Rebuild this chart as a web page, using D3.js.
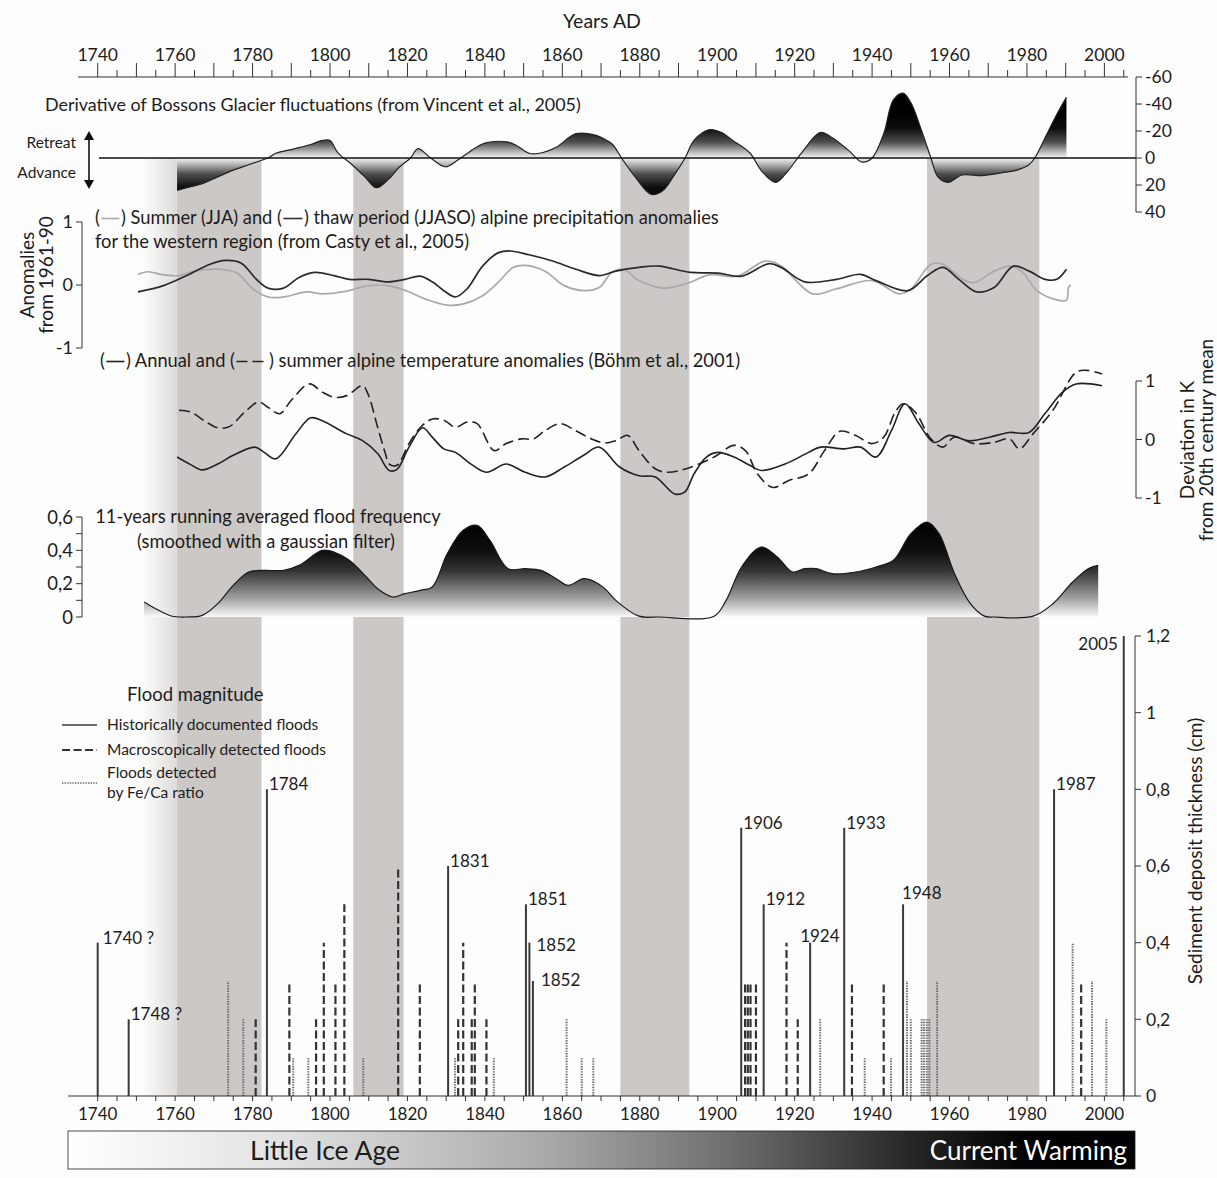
<!DOCTYPE html>
<html>
<head>
<meta charset="utf-8">
<script src="https://cdn.jsdelivr.net/npm/d3@7"></script>
<style>
  body { margin: 0; background: #fdfdfd; }
  svg text { font-family: Lato, "Open Sans", "Noto Sans", sans-serif; fill: #1c1c1c; }
</style>
</head>
<body>
<svg id="chart" width="1217" height="1178"></svg>
<script>
// ---------------- data ----------------
const yearTicks = d3.range(1740, 2001, 20);
const fadeStartYear = 1751.5;
const coldPhases = [[1760.5, 1782.3], [1806, 1819], [1875, 1892.8], [1954.2, 1983.2]];

// Derivative of Bossons Glacier fluctuations (negative = retreat)
const glacierYears = [1760.5, 1763, 1767, 1771, 1775, 1779, 1782, 1784, 1786, 1791, 1795, 1798, 1800, 1802, 1805.7, 1809, 1812, 1815, 1818, 1820.8, 1822.7, 1826, 1829.8, 1833, 1836, 1840, 1845.5, 1848, 1851.4, 1854, 1858.4, 1863.5, 1868.5, 1871.5, 1873, 1875.3, 1878.8, 1883, 1886, 1888.6, 1891.7, 1894, 1898, 1901, 1904, 1908.5, 1911.3, 1915, 1917.6, 1921.7, 1926.7, 1929.7, 1933.8, 1937.4, 1940, 1943, 1945.5, 1948, 1950, 1952.7, 1955.2, 1957, 1959.6, 1963.2, 1968.4, 1973.4, 1977.4, 1980.5, 1982, 1985.7, 1988.2, 1990.2];
const glacierValues = [24, 22, 19, 14, 9, 5, 2, 0, -3.5, -7, -10, -13, -13, -4, 5, 14, 22, 16, 6.5, 0, -7, 0, 6.5, 1.5, -4.5, -11, -12, -9.5, -3.5, -3.5, -8, -18, -17, -13, -10, 0, 14, 27, 24, 14, 0, -13, -21, -19, -13, -3.5, 9, 18, 12, -3.5, -19, -15, -6, 3, 0, -18, -43, -48, -41, -21, 0, 14, 18, 12.6, 13, 11, 9, 5, 0, -21, -35, -45];

// Alpine precipitation anomalies, western region
const precipThawYears = [1750.4, 1757, 1763, 1769, 1773, 1777, 1781, 1784, 1788, 1792, 1796, 1801, 1805, 1810, 1815, 1819.4, 1823.3, 1826.4, 1829.4, 1832.4, 1835.4, 1839.4, 1843.4, 1846.5, 1851.4, 1857.5, 1863.5, 1869.5, 1873.8, 1879.8, 1885, 1893.1, 1900.2, 1906.3, 1913.4, 1916.5, 1922.6, 1930.8, 1937, 1941, 1949.2, 1954.3, 1958.3, 1962.4, 1967, 1971.5, 1976.5, 1980.6, 1984.7, 1987.7, 1990.2];
const precipThawValues = [-0.11, -0.01, 0.15, 0.33, 0.39, 0.35, 0.09, -0.05, -0.05, 0.12, 0.2, 0.15, 0.09, 0.09, 0.05, 0.09, 0.14, 0.05, -0.09, -0.19, -0.06, 0.3, 0.51, 0.54, 0.48, 0.38, 0.25, 0.15, 0.22, 0.28, 0.3, 0.2, 0.19, 0.14, 0.34, 0.28, 0.05, 0.09, 0.17, 0.07, -0.09, 0.15, 0.28, 0.09, -0.11, -0.04, 0.3, 0.22, 0.09, 0.09, 0.25];
const precipSummerYears = [1750.4, 1753, 1757, 1761, 1765, 1771, 1776, 1780, 1784, 1788, 1794, 1798, 1804, 1810, 1815, 1820, 1824.5, 1830.3, 1834.5, 1839.4, 1843.4, 1847.4, 1850.4, 1855.5, 1860.5, 1865.6, 1869.5, 1872.8, 1875.8, 1879.8, 1886, 1892, 1898, 1905.2, 1912.4, 1916.5, 1924.6, 1930.8, 1940, 1947, 1950, 1955.2, 1958.3, 1963.4, 1966.4, 1971.5, 1975.6, 1978.6, 1982.6, 1986.7, 1990.2, 1990.7, 1991.3];
const precipSummerValues = [0.17, 0.21, 0.16, 0.15, 0.22, 0.25, 0.19, -0.06, -0.19, -0.19, -0.11, -0.14, -0.1, -0.01, -0.01, -0.1, -0.22, -0.32, -0.3, -0.17, 0.04, 0.28, 0.31, 0.22, -0.01, -0.09, -0.04, 0.2, 0.25, 0.07, -0.05, 0.02, 0.16, 0.14, 0.38, 0.3, -0.14, -0.06, 0.07, -0.14, -0.07, 0.33, 0.33, 0.09, 0.04, 0.22, 0.3, 0.22, -0.09, -0.22, -0.24, -0.04, 0.0];

// Alpine temperature anomalies (K)
const tempSummerYears = [1761, 1764, 1768, 1771, 1774, 1778, 1781.6, 1784, 1787, 1790, 1794.7, 1798, 1801.3, 1804.3, 1808.4, 1809.8, 1812.3, 1814.3, 1815.3, 1817.3, 1820.4, 1823.4, 1826.4, 1829.4, 1832.4, 1835.4, 1838, 1842.4, 1845.5, 1849.4, 1852.5, 1855.5, 1859.5, 1863.5, 1867.5, 1871, 1873.8, 1876.9, 1879.8, 1884, 1887, 1892, 1899.2, 1904.3, 1907.3, 1910.4, 1914.4, 1918.5, 1923.6, 1927.7, 1931.7, 1935.8, 1939.9, 1943, 1946, 1948, 1951.1, 1955.2, 1958.3, 1961.2, 1966.4, 1971.4, 1975.5, 1978, 1981.6, 1986.7, 1992.7, 1995.8, 1999.4];
const tempSummerValues = [0.5, 0.47, 0.3, 0.2, 0.22, 0.47, 0.64, 0.55, 0.44, 0.67, 0.95, 0.81, 0.72, 0.75, 0.92, 0.78, 0.21, -0.24, -0.42, -0.44, -0.07, 0.21, 0.35, 0.33, 0.21, 0.3, 0.27, -0.19, -0.07, 0.01, 0.01, 0.15, 0.27, 0.15, 0.01, -0.06, -0.02, 0.07, -0.19, -0.5, -0.56, -0.5, -0.3, -0.1, -0.19, -0.59, -0.82, -0.7, -0.59, -0.19, 0.14, 0.07, -0.07, 0.04, 0.47, 0.61, 0.47, 0.01, -0.13, 0.04, -0.07, -0.05, 0.01, -0.16, 0.1, 0.5, 1.15, 1.18, 1.12];
const tempAnnualYears = [1760.5, 1764, 1767, 1771, 1775, 1780.6, 1783, 1786, 1791.2, 1795, 1798, 1804.2, 1808.4, 1812.3, 1815.3, 1817.3, 1820.4, 1823.9, 1826.4, 1829.4, 1832.4, 1836.4, 1840.4, 1845.5, 1850.4, 1855.5, 1860.5, 1865.5, 1869.5, 1874.8, 1879.8, 1884, 1889, 1891.6, 1894, 1897.2, 1900.2, 1904.3, 1908.4, 1911.4, 1917.5, 1923.6, 1926.7, 1932.8, 1937, 1941, 1945, 1948.5, 1952.1, 1956, 1960, 1965, 1970.3, 1975.4, 1980.5, 1984.6, 1989.2, 1992.7, 1999.4];
const tempAnnualValues = [-0.3, -0.43, -0.52, -0.42, -0.27, -0.13, -0.22, -0.33, 0.1, 0.37, 0.32, 0.1, -0.02, -0.24, -0.53, -0.51, -0.13, 0.2, 0.04, -0.16, -0.22, -0.42, -0.56, -0.42, -0.56, -0.64, -0.47, -0.27, -0.13, -0.47, -0.62, -0.64, -0.93, -0.9, -0.59, -0.3, -0.22, -0.3, -0.44, -0.53, -0.42, -0.22, -0.13, -0.16, -0.13, -0.3, 0.15, 0.61, 0.27, -0.05, 0.07, -0.02, 0.04, 0.12, 0.12, 0.44, 0.81, 0.95, 0.92];

// 11-year running flood frequency (gaussian smoothed)
const freqYears = [1752, 1755, 1759, 1763, 1767, 1771, 1775, 1779, 1783, 1788, 1792, 1798, 1801, 1805, 1809.4, 1812.3, 1816.3, 1819.3, 1823.3, 1826.4, 1830.3, 1834.4, 1838, 1841.3, 1846, 1850.4, 1854.5, 1858.4, 1861.5, 1865.5, 1868.5, 1871, 1873.8, 1879.8, 1885, 1899.2, 1902.3, 1906.3, 1911.4, 1915.5, 1919.5, 1922.6, 1925.6, 1929.7, 1935.8, 1941, 1945.5, 1950, 1954.2, 1957.3, 1961.3, 1965.4, 1969, 1971.5, 1981.6, 1986.7, 1991.8, 1995.8, 1998.4];
const freqValues = [0.09, 0.05, 0.006, 0, 0.01, 0.08, 0.19, 0.27, 0.28, 0.28, 0.31, 0.4, 0.39, 0.34, 0.24, 0.17, 0.12, 0.14, 0.16, 0.18, 0.38, 0.52, 0.55, 0.46, 0.29, 0.29, 0.28, 0.23, 0.19, 0.23, 0.21, 0.17, 0.1, 0.005, 0, 0.005, 0.1, 0.3, 0.42, 0.36, 0.27, 0.29, 0.29, 0.26, 0.27, 0.3, 0.34, 0.5, 0.57, 0.5, 0.26, 0.08, 0.005, 0, 0.005, 0.08, 0.21, 0.29, 0.31];

// Flood events: sediment deposit thickness (cm)
const histYears = [1740, 1748, 1783.7, 1830.5, 1850.6, 1851.5, 1852.4, 1906.2, 1912, 1924, 1932.8, 1948, 1987, 2005];
const histValues = [0.4, 0.2, 0.8, 0.6, 0.5, 0.4, 0.3, 0.7, 0.5, 0.4, 0.7, 0.5, 0.8, 1.2];
const histLabels = ["1740 ?", "1748 ?", "1784", "1831", "1851", "1852", "1852", "1906", "1912", "1924", "1933", "1948", "1987", "2005"];
const macroYears = [1780.8, 1789.5, 1796.4, 1798.4, 1801.4, 1803.7, 1817.6, 1823.2, 1833.1, 1834.4, 1836.6, 1837.4, 1840.4, 1907.2, 1907.9, 1908.6, 1910, 1917.9, 1920.8, 1934.8, 1943, 1994];
const macroValues = [0.2, 0.3, 0.2, 0.4, 0.3, 0.5, 0.6, 0.3, 0.2, 0.4, 0.2, 0.3, 0.2, 0.3, 0.3, 0.3, 0.3, 0.4, 0.2, 0.3, 0.3, 0.3];
const feCaYears = [1773.7, 1777.6, 1790.5, 1794.4, 1808.6, 1832.3, 1842.3, 1861.1, 1865, 1868, 1926.6, 1938.1, 1944.9, 1949, 1950, 1952.8, 1953.4, 1954.1, 1954.8, 1956.8, 1991.8, 1996.8, 2000.5];
const feCaValues = [0.3, 0.2, 0.1, 0.1, 0.1, 0.1, 0.1, 0.2, 0.1, 0.1, 0.2, 0.1, 0.1, 0.3, 0.2, 0.2, 0.2, 0.2, 0.2, 0.3, 0.4, 0.3, 0.2];

const glacierTicks = [-60, -40, -20, 0, 20, 40];
const precipTicks = [1, 0, -1];
const tempTicks = [1, 0, -1];
const freqTicks = [0, 0.2, 0.4, 0.6];
const sedimentTicks = [0, 0.2, 0.4, 0.6, 0.8, 1, 1.2];

// ---------------- drawing ----------------
const svg = d3.select("#chart");
const defs = svg.append("defs");
const zip = (a, b) => a.map((v, i) => [v, b[i]]);
const comma = v => String(v).replace(".", ",");
const titleSize = 18.3, rotSize = 19, axisSize = 17.5;

const x = d3.scaleLinear().domain([1740, 2000]).range([97.7, 1104.4]);
const gy = d3.scaleLinear().domain([-60, 40]).range([77, 212]);
const py = d3.scaleLinear().domain([-1, 1]).range([348, 222]);
const ty = d3.scaleLinear().domain([-1, 1]).range([498, 381]);
const fy = d3.scaleLinear().domain([0, 0.6]).range([617, 517]);
const sy = d3.scaleLinear().domain([0, 1.2]).range([1096, 636]);
const smooth = d3.curveCatmullRom.alpha(0.5);

function grad(id, attrs, stops) {
  const g = defs.append("linearGradient").attr("id", id);
  Object.entries(attrs).forEach(([k, v]) => g.attr(k, v));
  stops.forEach(([o, c]) => g.append("stop").attr("offset", o).attr("stop-color", c));
}

// cold-phase shading
const bandTop = gy(0), bandBottom = sy(0);
grad("fade", { x1: 0, x2: 1, y1: 0, y2: 0 }, [[0, "#fdfdfd"], [1, "#dedcda"]]);
svg.append("rect")
  .attr("x", x(fadeStartYear)).attr("y", bandTop)
  .attr("width", x(coldPhases[0][0]) - x(fadeStartYear)).attr("height", bandBottom - bandTop)
  .attr("fill", "url(#fade)");
svg.selectAll("rect.band").data(coldPhases).join("rect").attr("class", "band")
  .attr("x", d => x(d[0])).attr("y", bandTop)
  .attr("width", d => x(d[1]) - x(d[0])).attr("height", bandBottom - bandTop)
  .attr("fill", "#ccc8c5");

// ---- top year axis ----
svg.append("text").attr("x", 602).attr("y", 28).attr("text-anchor", "middle")
  .attr("font-size", 19.5).text("Years AD");
const topAxis = svg.append("g").attr("transform", "translate(0,77)");
topAxis.append("line").attr("x1", 78).attr("x2", 1128).attr("stroke", "#333").attr("stroke-width", 1.2);
topAxis.selectAll("line.t").data(d3.range(1740, 2006, 5)).join("line").attr("class", "t")
  .attr("x1", d => x(d)).attr("x2", d => x(d))
  .attr("y1", 0).attr("y2", d => d % 10 === 0 ? -14 : -7)
  .attr("stroke", "#333").attr("stroke-width", 1);
topAxis.selectAll("text").data(yearTicks).join("text")
  .attr("x", d => x(d)).attr("y", -16).attr("text-anchor", "middle")
  .attr("font-size", 17.5).text(d => d);

// ---- glacier panel ----
svg.append("text").attr("x", 45).attr("y", 111).attr("font-size", 17.9)
  .text("Derivative of Bossons Glacier fluctuations (from Vincent et al., 2005)");
grad("glacierFill", { gradientUnits: "userSpaceOnUse", x1: 0, x2: 0, y1: gy(-34), y2: gy(34) },
  [[0, "#000"], [0.18, "#0d0d0d"], [0.33, "#505050"], [0.43, "#b5b5b5"], [0.5, "#f4f4f4"],
   [0.57, "#b5b5b5"], [0.67, "#505050"], [0.82, "#0d0d0d"], [1, "#000"]]);
const glacier = zip(glacierYears, glacierValues);
svg.append("path").datum(glacier)
  .attr("d", d3.area().x(d => x(d[0])).y0(gy(0)).y1(d => gy(d[1])).curve(smooth))
  .attr("fill", "url(#glacierFill)");
svg.append("path").datum(glacier)
  .attr("d", d3.line().x(d => x(d[0])).y(d => gy(d[1])).curve(smooth))
  .attr("fill", "none").attr("stroke", "#222").attr("stroke-width", 1.2);
svg.append("line").attr("x1", 99).attr("x2", 1136).attr("y1", gy(0)).attr("y2", gy(0))
  .attr("stroke", "#111").attr("stroke-width", 1.6);
const gAxis = svg.append("g").attr("transform", "translate(1136,0)");
gAxis.append("line").attr("y1", gy(-60)).attr("y2", gy(40)).attr("stroke", "#333");
gAxis.selectAll("line.t").data(glacierTicks).join("line").attr("class", "t")
  .attr("x1", 0).attr("x2", 6).attr("y1", d => gy(d)).attr("y2", d => gy(d)).attr("stroke", "#333");
gAxis.selectAll("text").data(glacierTicks).join("text")
  .attr("x", 9).attr("y", d => gy(d)).attr("dy", "0.36em").attr("font-size", axisSize).text(d => d);
svg.append("text").attr("x", 76).attr("y", 148).attr("text-anchor", "end").attr("font-size", 15.5).text("Retreat");
svg.append("text").attr("x", 76).attr("y", 178).attr("text-anchor", "end").attr("font-size", 15.5).text("Advance");
svg.append("line").attr("x1", 89).attr("x2", 89).attr("y1", 138).attr("y2", 182)
  .attr("stroke", "#111").attr("stroke-width", 1.6);
svg.append("path").attr("d", "M89,131 L84,140 L94,140 Z M89,189 L84,180 L94,180 Z").attr("fill", "#111");

// titles with inline key strokes
function keyedTitle(xp, yp, size, segments, keys) {
  const t = svg.append("text").attr("x", xp).attr("y", yp).attr("font-size", size);
  segments.forEach((s, i) => t.append("tspan").attr("dx", i ? keys[i - 1].w : 0).text(s));
  const node = t.node();
  let idx = 0;
  segments.forEach((s, i) => {
    idx += s.length;
    if (i < segments.length - 1) {
      const a = node.getEndPositionOfChar(idx - 1).x + 1.5;
      const b = node.getStartPositionOfChar(idx).x - 1.5;
      const k = keys[i];
      svg.append("line").attr("x1", a).attr("x2", b).attr("y1", yp - size * 0.3).attr("y2", yp - size * 0.3)
        .attr("stroke", k.color).attr("stroke-width", 1.6).attr("stroke-dasharray", k.dash || null);
    }
  });
}

// ---- precipitation panel ----
keyedTitle(95, 224, titleSize,
  ["(", ") Summer (JJA) and (", ") thaw period (JJASO) alpine precipitation anomalies"],
  [{ w: 21, color: "#aaa" }, { w: 22, color: "#333" }]);
svg.append("text").attr("x", 95).attr("y", 248).attr("font-size", titleSize)
  .text("for the western region (from Casty et al., 2005)");
const pAxis = svg.append("g").attr("transform", "translate(82,0)");
pAxis.append("line").attr("y1", py(1)).attr("y2", py(-1)).attr("stroke", "#333");
pAxis.selectAll("line.t").data(precipTicks).join("line").attr("class", "t")
  .attr("x1", -6).attr("x2", 0).attr("y1", d => py(d)).attr("y2", d => py(d)).attr("stroke", "#333");
pAxis.selectAll("text").data(precipTicks).join("text")
  .attr("x", -9).attr("y", d => py(d)).attr("dy", "0.36em").attr("text-anchor", "end")
  .attr("font-size", 18).text(d => d);
svg.append("text").attr("transform", "translate(34,275) rotate(-90)").attr("text-anchor", "middle")
  .attr("font-size", rotSize).text("Anomalies");
svg.append("text").attr("transform", "translate(53,275) rotate(-90)").attr("text-anchor", "middle")
  .attr("font-size", rotSize).text("from 1961-90");
const pLine = d3.line().x(d => x(d[0])).y(d => py(d[1])).curve(smooth);
svg.append("path").datum(zip(precipSummerYears, precipSummerValues)).attr("d", pLine)
  .attr("fill", "none").attr("stroke", "#a9a9a9").attr("stroke-width", 1.7);
svg.append("path").datum(zip(precipThawYears, precipThawValues)).attr("d", pLine)
  .attr("fill", "none").attr("stroke", "#2a2a2a").attr("stroke-width", 1.7);

// ---- temperature panel ----
keyedTitle(100, 367, titleSize,
  ["(", ") Annual and (", ") summer alpine temperature anomalies (B\u00f6hm et al., 2001)"],
  [{ w: 21, color: "#222" }, { w: 34, color: "#222", dash: "11,5" }]);
const tLine = d3.line().x(d => x(d[0])).y(d => ty(d[1])).curve(smooth);
svg.append("path").datum(zip(tempSummerYears, tempSummerValues)).attr("d", tLine)
  .attr("fill", "none").attr("stroke", "#222").attr("stroke-width", 1.6).attr("stroke-dasharray", "11,5");
svg.append("path").datum(zip(tempAnnualYears, tempAnnualValues)).attr("d", tLine)
  .attr("fill", "none").attr("stroke", "#222").attr("stroke-width", 1.6);
const tAxis = svg.append("g").attr("transform", "translate(1136,0)");
tAxis.append("line").attr("y1", ty(1)).attr("y2", ty(-1)).attr("stroke", "#333");
tAxis.selectAll("line.t").data(tempTicks).join("line").attr("class", "t")
  .attr("x1", 0).attr("x2", 6).attr("y1", d => ty(d)).attr("y2", d => ty(d)).attr("stroke", "#333");
tAxis.selectAll("text").data(tempTicks).join("text")
  .attr("x", 9).attr("y", d => ty(d)).attr("dy", "0.36em").attr("font-size", axisSize).text(d => d);
svg.append("text").attr("transform", "translate(1194,440) rotate(-90)").attr("text-anchor", "middle")
  .attr("font-size", rotSize).text("Deviation in K");
svg.append("text").attr("transform", "translate(1213,440) rotate(-90)").attr("text-anchor", "middle")
  .attr("font-size", rotSize).text("from 20th century mean");

// ---- flood frequency panel ----
svg.append("text").attr("x", 268).attr("y", 523).attr("text-anchor", "middle").attr("font-size", titleSize)
  .text("11-years running averaged flood frequency");
svg.append("text").attr("x", 266).attr("y", 548).attr("text-anchor", "middle").attr("font-size", titleSize)
  .text("(smoothed with a gaussian filter)");
grad("freqFill", { gradientUnits: "userSpaceOnUse", x1: 0, x2: 0, y1: fy(0.55), y2: fy(0) },
  [[0, "#000"], [0.3, "#111"], [0.5, "#353535"], [0.8, "#a2a2a2"], [1, "#fafafa"]]);
const freq = zip(freqYears, freqValues);
svg.append("path").datum(freq)
  .attr("d", d3.area().x(d => x(d[0])).y0(fy(0)).y1(d => fy(d[1])).curve(smooth))
  .attr("fill", "url(#freqFill)");
svg.append("path").datum(freq)
  .attr("d", d3.line().x(d => x(d[0])).y(d => fy(d[1])).curve(smooth))
  .attr("fill", "none").attr("stroke", "#1a1a1a").attr("stroke-width", 1.2);
const fAxis = svg.append("g").attr("transform", "translate(82,0)");
fAxis.append("line").attr("y1", fy(0.6)).attr("y2", fy(0)).attr("stroke", "#333");
fAxis.selectAll("line.t").data(d3.range(0, 0.61, 0.1)).join("line").attr("class", "t")
  .attr("x1", -6).attr("x2", 0).attr("y1", d => fy(d)).attr("y2", d => fy(d)).attr("stroke", "#333");
fAxis.selectAll("text").data(freqTicks).join("text")
  .attr("x", -9).attr("y", d => fy(d)).attr("dy", "0.36em").attr("text-anchor", "end")
  .attr("font-size", 18.5).text(comma);

// ---- flood magnitude panel ----
const stemStyles = {
  hist: { color: "#3a3a3a", width: 2, dash: null },
  macro: { color: "#333", width: 2.2, dash: "8,3.5" },
  fe: { color: "#6a6a6a", width: 2, dash: "1.4,1.2" }
};
function stems(cls, years, values, st) {
  svg.selectAll("line." + cls).data(zip(years, values)).join("line").attr("class", cls)
    .attr("x1", d => x(d[0])).attr("x2", d => x(d[0]))
    .attr("y1", sy(0)).attr("y2", d => sy(d[1]))
    .attr("stroke", st.color).attr("stroke-width", st.width).attr("stroke-dasharray", st.dash);
}
stems("fe", feCaYears, feCaValues, stemStyles.fe);
stems("macro", macroYears, macroValues, stemStyles.macro);
stems("hist", histYears, histValues, stemStyles.hist);

// per-label nudges [dx, dy] so neighbouring labels and stems stay clear
const labelNudge = { 0: [3, 0], 5: [5, 7], 6: [6, 4], 9: [-12, -2], 11: [-3, -6] };
svg.selectAll("text.flood").data(histYears.map((yr, i) => ({ yr, v: histValues[i], label: histLabels[i], i })))
  .join("text").attr("class", "flood")
  .attr("x", d => d.label === "2005" ? x(d.yr) - 6 : x(d.yr) + 2 + (labelNudge[d.i] ? labelNudge[d.i][0] : 0))
  .attr("y", d => d.label === "2005" ? sy(d.v) + 14 : sy(d.v) + 1 + (labelNudge[d.i] ? labelNudge[d.i][1] : 0))
  .attr("text-anchor", d => d.label === "2005" ? "end" : "start")
  .attr("font-size", 17).text(d => d.label);

// bottom axis
const bAxis = svg.append("g").attr("transform", `translate(0,${sy(0)})`);
bAxis.append("line").attr("x1", 68).attr("x2", 1135).attr("stroke", "#333").attr("stroke-width", 1.2);
bAxis.selectAll("line.t").data(d3.range(1740, 2006, 5)).join("line").attr("class", "t")
  .attr("x1", d => x(d)).attr("x2", d => x(d)).attr("y1", 0).attr("y2", 5).attr("stroke", "#333");
bAxis.selectAll("text").data(yearTicks).join("text")
  .attr("x", d => x(d)).attr("y", 24).attr("text-anchor", "middle").attr("font-size", 17).text(d => d);

// sediment axis
const sAxis = svg.append("g").attr("transform", "translate(1135,0)");
sAxis.append("line").attr("y1", sy(0)).attr("y2", sy(1.2)).attr("stroke", "#333");
sAxis.selectAll("line.t").data(sedimentTicks).join("line").attr("class", "t")
  .attr("x1", 0).attr("x2", 6).attr("y1", d => sy(d)).attr("y2", d => sy(d)).attr("stroke", "#333");
sAxis.selectAll("text").data(sedimentTicks).join("text")
  .attr("x", 11).attr("y", d => sy(d)).attr("dy", "0.36em").attr("font-size", axisSize).text(comma);
svg.append("text").attr("transform", "translate(1202,851) rotate(-90)").attr("text-anchor", "middle")
  .attr("font-size", rotSize).text("Sediment deposit thickness (cm)");

// legend
svg.append("text").attr("x", 127).attr("y", 701).attr("font-size", 18.5).text("Flood magnitude");
const legendRows = [
  { st: stemStyles.hist, y: 725, lines: ["Historically documented floods"] },
  { st: stemStyles.macro, y: 750, lines: ["Macroscopically detected floods"] },
  { st: stemStyles.fe, y: 783, lines: ["Floods detected", "by Fe/Ca ratio"] }
];
legendRows.forEach(r => {
  svg.append("line").attr("x1", 62).attr("x2", 97).attr("y1", r.y).attr("y2", r.y)
    .attr("stroke", r.st.color).attr("stroke-width", r.st.width * 0.8).attr("stroke-dasharray", r.st.dash);
  r.lines.forEach((l, j) => {
    const yy = r.lines.length > 1 ? r.y - 5 + j * 20 : r.y + 5;
    svg.append("text").attr("x", 107).attr("y", yy).attr("font-size", 15.5).text(l);
  });
});

// climate period bar
grad("periods", { x1: 0, x2: 1, y1: 0, y2: 0 },
  [[0, "#ffffff"], [0.2, "#e2e2e2"], [0.45, "#a9a9a9"], [0.62, "#6e6e6e"], [0.8, "#222"], [0.9, "#000"], [1, "#000"]]);
svg.append("rect").attr("x", 68).attr("y", 1131).attr("width", 1067).attr("height", 38)
  .attr("fill", "url(#periods)").attr("stroke", "#222").attr("stroke-width", 0.8);
svg.append("text").attr("x", 325).attr("y", 1160).attr("text-anchor", "middle").attr("font-size", 26.5)
  .text("Little Ice Age");
svg.append("text").attr("x", 1127).attr("y", 1160).attr("text-anchor", "end").attr("font-size", 26)
  .style("fill", "#fff").text("Current Warming");
</script>
</body>
</html>
